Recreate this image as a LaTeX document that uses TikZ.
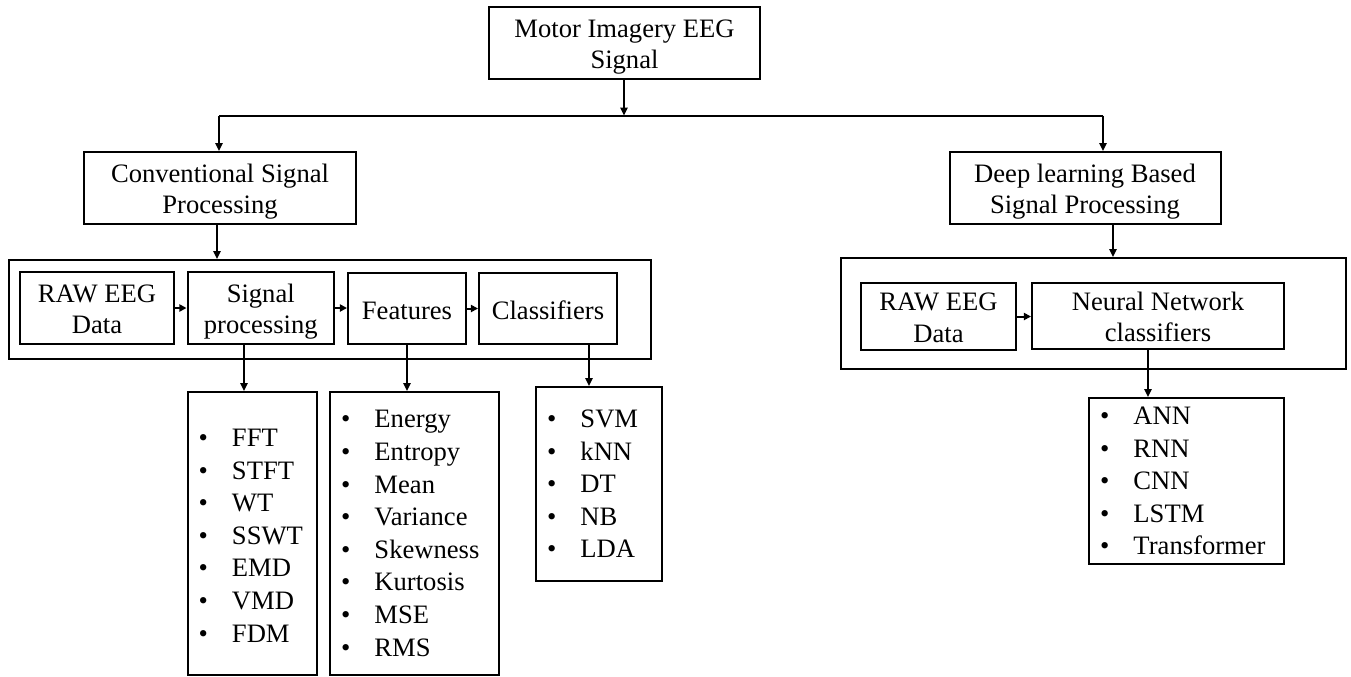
\documentclass[tikz,border=0pt]{standalone}
\usepackage{fontspec}
\setmainfont{Liberation Serif}
\usetikzlibrary{arrows.meta}
% one list entry: bullet, then the label
\newcommand\bitem[1]{\hspace*{5.5pt}\makebox[16.75pt][l]{\textbullet}#1}
% struts that fix the height of a first line and the depth of a last line
\newcommand\toprule{\rule{0pt}{12.8pt}}
\newcommand\botrule{\rule[-3pt]{0pt}{3pt}}
\newcommand\oneline{\rule{0pt}{10.8pt}}
\begin{document}
\begin{tikzpicture}[x=0.5pt,y=-0.5pt,
  every node/.style={font=\fontsize{13.3}{15.8}\selectfont},
  box/.style={draw, line width=1pt, inner sep=0pt, align=center},
  listbox/.style={draw, line width=1pt, inner xsep=0pt, inner ysep=0pt, align=left,
    font=\fontsize{13.3}{16.3}\selectfont},
  arr/.style={line width=1pt, -{Triangle[length=4pt,width=3.6pt]}},
  sarr/.style={line width=1pt, -{Triangle[length=3.6pt,width=3.6pt]}},
  link/.style={line width=1pt}]
\useasboundingbox (0,0) rectangle (1351,676);

% top level
\node[box, minimum width=135.5pt, minimum height=36pt] (top) at (624.5,43) {\toprule Motor Imagery EEG\\Signal\botrule};
\node[box, minimum width=136pt, minimum height=36pt] (conv) at (220,188) {\toprule Conventional Signal\\Processing\botrule};
\node[box, minimum width=135.5pt, minimum height=36pt] (deep) at (1085,188) {\toprule Deep learning Based\\Signal Processing\botrule};

% branch point and drops
\coordinate (split) at (624,115.5);
\coordinate (bl) at (219,115.5);
\coordinate (br) at (1103,115.5);
\draw[arr] (top.south -| split) -- (split);
\draw[link] (bl) -- (br);
\draw[arr] (bl) -- (bl |- conv.north);
\draw[arr] (br) -- (br |- deep.north);

% conventional pipeline
\node[box, minimum width=321pt, minimum height=49.5pt] (cont1) at (330,309.5) {};
\node[box, minimum width=77pt, minimum height=36pt] (raw1) at (97,308) {\toprule RAW EEG\\Data\botrule};
\node[box, minimum width=73.25pt, minimum height=36pt] (sp) at (260.75,308) {\toprule Signal\\processing\botrule};
\node[box, minimum width=59pt, minimum height=35.5pt] (feat) at (407,308.5) {\oneline Features};
\node[box, minimum width=69pt, minimum height=35.5pt] (cls) at (548,308.5) {\oneline Classifiers};
\draw[sarr] (raw1.east) -- (sp.west);
\draw[sarr] (sp.east) -- (sp.east -| feat.west);
\draw[sarr] (feat.east) -- (cls.west);
\coordinate (cx) at (217,0);
\draw[arr] (conv.south -| cx) -- (cx |- cont1.north);

% deep learning pipeline
\node[box, minimum width=252.5pt, minimum height=55.5pt] (cont2) at (1093.5,313.5) {};
\node[box, minimum width=77.5pt, minimum height=33.5pt] (raw2) at (938.5,316.5) {\toprule RAW EEG\\Data\botrule};
\node[box, minimum width=126pt, minimum height=33pt] (nn) at (1158,316) {\toprule Neural Network\\classifiers\botrule};
\draw[sarr] (raw2.east) -- (raw2.east -| nn.west);
\coordinate (dx) at (1113,0);
\draw[arr] (deep.south -| dx) -- (dx |- cont2.north);

% method lists
\node[listbox, text width=64.75pt, minimum height=141.5pt] (l1) at (252.25,533.5)
  {\oneline\bitem{FFT}\\\bitem{STFT}\\\bitem{WT}\\\bitem{SSWT}\\\bitem{EMD}\\\bitem{VMD}\\\bitem{FDM}};
\node[listbox, text width=84.5pt, minimum height=141.5pt] (l2) at (414.5,533.5)
  {\bitem{Energy}\\\bitem{Entropy}\\\bitem{Mean}\\\bitem{Variance}\\\bitem{Skewness}\\\bitem{Kurtosis}\\\bitem{MSE}\\\bitem{RMS}};
\node[listbox, text width=63pt, minimum height=97pt] (l3) at (599,484)
  {\bitem{SVM}\\\bitem{kNN}\\\bitem{DT}\\\bitem{NB}\\\bitem{LDA}};
\node[listbox, text width=97.5pt, minimum height=83pt] (l4) at (1186.5,481)
  {\bitem{ANN}\\\bitem{RNN}\\\bitem{CNN}\\\bitem{LSTM}\\\bitem{Transformer}};

\coordinate (ax1) at (244,0);
\coordinate (ax3) at (589,0);
\coordinate (ax4) at (1148,0);
\draw[arr] (sp.south -| ax1) -- (ax1 |- l1.north);
\draw[arr] (feat.south) -- (feat.south |- l2.north);
\draw[arr] (cls.south -| ax3) -- (ax3 |- l3.north);
\draw[arr] (nn.south -| ax4) -- (ax4 |- l4.north);
\end{tikzpicture}
\end{document}
